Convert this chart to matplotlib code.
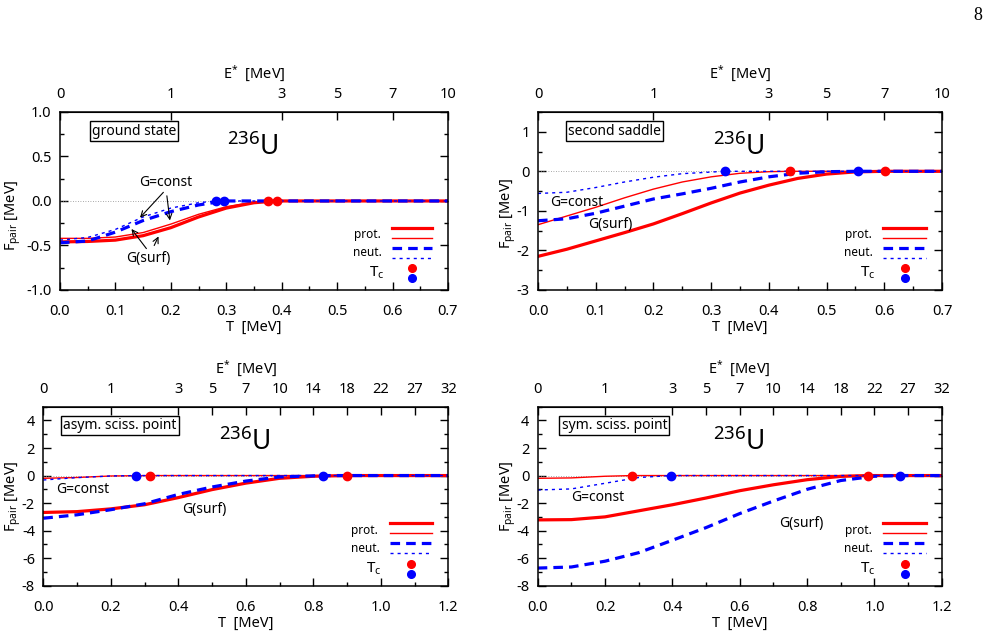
import matplotlib
matplotlib.use('Agg')
import matplotlib.pyplot as plt
from matplotlib.ticker import MultipleLocator, FormatStrFormatter

plt.rcParams['font.family'] = ['Noto Sans', 'DejaVu Sans']
plt.rcParams['mathtext.fontset'] = 'custom'
plt.rcParams['mathtext.rm'] = 'Noto Sans'
plt.rcParams['mathtext.it'] = 'Noto Sans:italic'
plt.rcParams['axes.unicode_minus'] = False

RED = '#ff0000'
BLUE = '#0000ff'

# E* labels on the top axis (placed at temperatures T)
top_pos_a = [0, 0.2, 0.4, 0.5, 0.6, 0.7]
top_lab_a = ['0', '1', '3', '5', '7', '10']
top_pos_b = [0, 0.2, 0.4, 0.5, 0.6, 0.7, 0.8, 0.9, 1.0, 1.1, 1.2]
top_lab_b = ['0', '1', '3', '5', '7', '10', '14', '18', '22', '27', '32']

# ---- ground state ----
gs_ps_T = [0, 0.05, 0.1, 0.15, 0.2, 0.25, 0.3, 0.35, 0.391, 0.7]
gs_ps_F = [-0.46, -0.455, -0.44, -0.39, -0.30, -0.18, -0.08, -0.02, 0, 0]
gs_pc_T = [0, 0.05, 0.1, 0.15, 0.2, 0.25, 0.3, 0.35, 0.376, 0.7]
gs_pc_F = [-0.42, -0.42, -0.405, -0.355, -0.26, -0.15, -0.065, -0.012, 0, 0]
gs_ns_T = [0, 0.05, 0.1, 0.15, 0.2, 0.25, 0.296, 0.7]
gs_ns_F = [-0.47, -0.45, -0.35, -0.22, -0.12, -0.045, 0, 0]
gs_nc_T = [0, 0.05, 0.1, 0.15, 0.2, 0.25, 0.281, 0.7]
gs_nc_F = [-0.44, -0.41, -0.32, -0.18, -0.08, -0.02, 0, 0]
gs_tc_p = [0.376, 0.391]
gs_tc_n = [0.281, 0.296]

# ---- second saddle ----
ss_ps_T = [0, 0.05, 0.1, 0.15, 0.2, 0.25, 0.3, 0.35, 0.4, 0.45, 0.5, 0.55, 0.601, 0.7]
ss_ps_F = [-2.15, -1.97, -1.76, -1.55, -1.33, -1.07, -0.80, -0.55, -0.35, -0.18, -0.07, -0.015, 0, 0]
ss_pc_T = [0, 0.05, 0.1, 0.15, 0.2, 0.25, 0.3, 0.35, 0.4, 0.436, 0.7]
ss_pc_F = [-1.35, -1.13, -0.91, -0.67, -0.45, -0.27, -0.14, -0.05, -0.01, 0, 0]
ss_ns_T = [0, 0.05, 0.1, 0.15, 0.2, 0.25, 0.3, 0.35, 0.4, 0.45, 0.5, 0.555, 0.7]
ss_ns_F = [-1.25, -1.2, -1.06, -0.88, -0.7, -0.57, -0.43, -0.27, -0.14, -0.05, -0.01, 0, 0]
ss_nc_T = [0, 0.05, 0.1, 0.15, 0.2, 0.25, 0.3235, 0.7]
ss_nc_F = [-0.56, -0.53, -0.41, -0.27, -0.15, -0.06, 0, 0]
ss_tc_p = [0.436, 0.601]
ss_tc_n = [0.3235, 0.555]

# ---- asymmetric scission point ----
as_ps_T = [0, 0.1, 0.2, 0.3, 0.4, 0.5, 0.6, 0.7, 0.8, 0.9, 1.2]
as_ps_F = [-2.68, -2.62, -2.42, -2.12, -1.6, -1.02, -0.55, -0.2, -0.05, 0, 0]
as_pc_T = [0, 0.1, 0.2, 0.316, 1.2]
as_pc_F = [-0.2, -0.14, -0.03, 0, 0]
as_ns_T = [0, 0.1, 0.2, 0.3, 0.4, 0.5, 0.6, 0.7, 0.828, 1.2]
as_ns_F = [-3.1, -2.85, -2.48, -2.05, -1.37, -0.83, -0.4, -0.1, 0, 0]
as_nc_T = [0, 0.1, 0.2, 0.275, 1.2]
as_nc_F = [-0.32, -0.15, -0.03, 0, 0]
as_tc_p = [0.316, 0.899]
as_tc_n = [0.275, 0.828]

# ---- symmetric scission point ----
sy_ps_T = [0, 0.1, 0.2, 0.3, 0.4, 0.5, 0.6, 0.7, 0.8, 0.9, 0.98, 1.2]
sy_ps_F = [-3.22, -3.2, -3.0, -2.56, -2.12, -1.63, -1.1, -0.67, -0.3, -0.06, 0, 0]
sy_pc_T = [0, 0.1, 0.2, 0.281, 1.2]
sy_pc_F = [-0.2, -0.17, -0.05, 0, 0]
sy_ns_T = [0, 0.1, 0.2, 0.3, 0.4, 0.5, 0.6, 0.7, 0.8, 0.9, 1.0, 1.075, 1.2]
sy_ns_F = [-6.72, -6.64, -6.22, -5.6, -4.7, -3.78, -2.76, -1.85, -1.0, -0.36, -0.05, 0, 0]
sy_nc_T = [0, 0.1, 0.2, 0.3, 0.397, 1.2]
sy_nc_F = [-1.05, -0.97, -0.56, -0.14, 0, 0]
sy_tc_p = [0.281, 0.98]
sy_tc_n = [0.397, 1.075]

FS = 10.5
fig = plt.figure(figsize=(9.91, 6.39), dpi=100)


def panel(rect, xmax, ylim, xstep, ystep, xfmt, yfmt, top_pos, top_lab, name,
          ps, pc, ns, nc, tc_p, tc_n, ylab_pos, box_x):
    ax = fig.add_axes(rect)
    ax.axhline(0, color='0.55', lw=0.6, ls=(0, (1, 2)))
    ax.plot(pc[0], pc[1], color=RED, lw=1.0)
    ax.plot(ps[0], ps[1], color=RED, lw=2.3)
    ax.plot(nc[0], nc[1], color=BLUE, lw=1.0, ls=(0, (2.2, 2.9)))
    ax.plot(ns[0], ns[1], color=BLUE, lw=2.3, ls=(0, (3.0, 1.9)))
    ax.plot(tc_p, [0] * len(tc_p), 'o', color=RED, ms=6, zorder=5)
    ax.plot(tc_n, [0] * len(tc_n), 'o', color=BLUE, ms=6, zorder=5)

    ax.set_xlim(0, xmax)
    ax.set_ylim(*ylim)
    ax.xaxis.set_major_locator(MultipleLocator(xstep))
    ax.xaxis.set_minor_locator(MultipleLocator(xstep / 2))
    ax.yaxis.set_major_locator(MultipleLocator(ystep))
    ax.yaxis.set_minor_locator(MultipleLocator(ystep / 2))
    ax.xaxis.set_major_formatter(FormatStrFormatter(xfmt))
    ax.yaxis.set_major_formatter(FormatStrFormatter(yfmt))
    ax.tick_params(which='both', direction='in', top=False, right=True,
                   labelsize=FS, width=1)
    ax.tick_params(which='major', length=6)
    ax.tick_params(which='minor', length=3)
    ax.tick_params(axis='x', which='major', pad=10)
    ax.tick_params(axis='y', which='major', pad=6)
    for s in ax.spines.values():
        s.set_linewidth(1.1)
    ax.set_xlabel('T  [MeV]', fontsize=FS, labelpad=1)
    ax.set_ylabel(r'F$_{\mathrm{pair}}$ [MeV]', fontsize=FS)
    ax.yaxis.set_label_coords(*ylab_pos)

    top = ax.secondary_xaxis('top')
    top.set_xticks(top_pos)
    top.set_xticklabels(top_lab)
    top.tick_params(direction='in', length=6, width=1, labelsize=FS, pad=7)
    top.set_xlabel(r'E$^{*}$  [MeV]', fontsize=FS, labelpad=6)

    ax.text(box_x, 0.893, name, transform=ax.transAxes, fontsize=10,
            ha='left', va='center',
            bbox=dict(boxstyle='square,pad=0.15', fc='white', ec='black', lw=1))
    ax.text(0.497, 0.80, r'$^{236}\mathrm{U}$', transform=ax.transAxes,
            fontsize=19, ha='center', va='center')

    # key in the gnuplot style: label to the left, two samples per entry
    kx = [0.855, 0.96]
    ax.plot(kx, [0.348, 0.348], transform=ax.transAxes, color=RED, lw=2.3)
    ax.plot(kx, [0.292, 0.292], transform=ax.transAxes, color=RED, lw=1.0)
    ax.plot(kx, [0.236, 0.236], transform=ax.transAxes, color=BLUE, lw=2.3,
            ls=(0, (3.0, 1.9)))
    ax.plot(kx, [0.180, 0.180], transform=ax.transAxes, color=BLUE, lw=1.0,
            ls=(0, (2.2, 2.9)))
    ax.plot([0.908], [0.124], 'o', transform=ax.transAxes, color=RED, ms=5.5)
    ax.plot([0.908], [0.068], 'o', transform=ax.transAxes, color=BLUE, ms=5.5)
    ax.text(0.826, 0.31, 'prot.', transform=ax.transAxes, fontsize=8.5,
            ha='right', va='center')
    ax.text(0.830, 0.21, 'neut.', transform=ax.transAxes, fontsize=8.5,
            ha='right', va='center')
    ax.text(0.836, 0.094, r'T$_{\mathrm{c}}$', transform=ax.transAxes,
            fontsize=11, ha='right', va='center')
    return ax


ax1 = panel([0.0605, 0.5462, 0.3915, 0.2786], 0.7, (-1, 1), 0.1, 0.5, '%.1f', '%.1f',
            top_pos_a, top_lab_a, 'ground state',
            (gs_ps_T, gs_ps_F), (gs_pc_T, gs_pc_F), (gs_ns_T, gs_ns_F), (gs_nc_T, gs_nc_F),
            gs_tc_p, gs_tc_n, (-0.095, 0.42), 0.082)
ax1.annotate('', xy=(0.141, -0.21), xytext=(0.19, 0.12),
             arrowprops=dict(arrowstyle='->', lw=0.8, color='black'))
ax1.annotate('G=const', xy=(0.199, -0.25), xytext=(0.19, 0.12),
             arrowprops=dict(arrowstyle='->', lw=0.8, color='black'),
             fontsize=10, ha='center', va='bottom')
ax1.annotate('', xy=(0.126, -0.29), xytext=(0.159, -0.56),
             arrowprops=dict(arrowstyle='->', lw=0.8, color='black'))
ax1.annotate('G(surf)', xy=(0.18, -0.37), xytext=(0.159, -0.56),
             arrowprops=dict(arrowstyle='->', lw=0.8, color='black'),
             fontsize=10, ha='center', va='top')

ax2 = panel([0.5429, 0.5462, 0.4077, 0.2786], 0.7, (-3, 1.5), 0.1, 1, '%.1f', '%.0f',
            top_pos_a, top_lab_a, 'second saddle',
            (ss_ps_T, ss_ps_F), (ss_pc_T, ss_pc_F), (ss_ns_T, ss_ns_F), (ss_nc_T, ss_nc_F),
            ss_tc_p, ss_tc_n, (-0.05, 0.43), 0.074)
ax2.text(0.067, -0.78, 'G=const', fontsize=10, ha='center', va='center')
ax2.text(0.125, -1.35, 'G(surf)', fontsize=10, ha='center', va='center')

ax3 = panel([0.0437, 0.0834, 0.4087, 0.2801], 1.2, (-8, 5), 0.2, 2, '%.1f', '%.0f',
            top_pos_b, top_lab_b, 'asym. sciss. point',
            (as_ps_T, as_ps_F), (as_pc_T, as_pc_F), (as_ns_T, as_ns_F), (as_nc_T, as_nc_F),
            as_tc_p, as_tc_n, (-0.05, 0.5), 0.049)
ax3.text(0.118, -0.99, 'G=const', fontsize=10, ha='center', va='center')
ax3.text(0.478, -2.49, 'G(surf)', fontsize=10, ha='center', va='center')

ax4 = panel([0.5426, 0.0834, 0.4077, 0.2801], 1.2, (-8, 5), 0.2, 2, '%.1f', '%.0f',
            top_pos_b, top_lab_b, 'sym. sciss. point',
            (sy_ps_T, sy_ps_F), (sy_pc_T, sy_pc_F), (sy_ns_T, sy_ns_F), (sy_nc_T, sy_nc_F),
            sy_tc_p, sy_tc_n, (-0.049, 0.5), 0.059)
ax4.text(0.179, -1.6, 'G=const', fontsize=10, ha='center', va='center')
ax4.text(0.783, -3.48, 'G(surf)', fontsize=10, ha='center', va='center')

fig.text(978 / 991, 1 - 16 / 639, '8', family='Liberation Serif', fontsize=13,
         ha='center', va='center')

fig.savefig('out.png', dpi=100)
